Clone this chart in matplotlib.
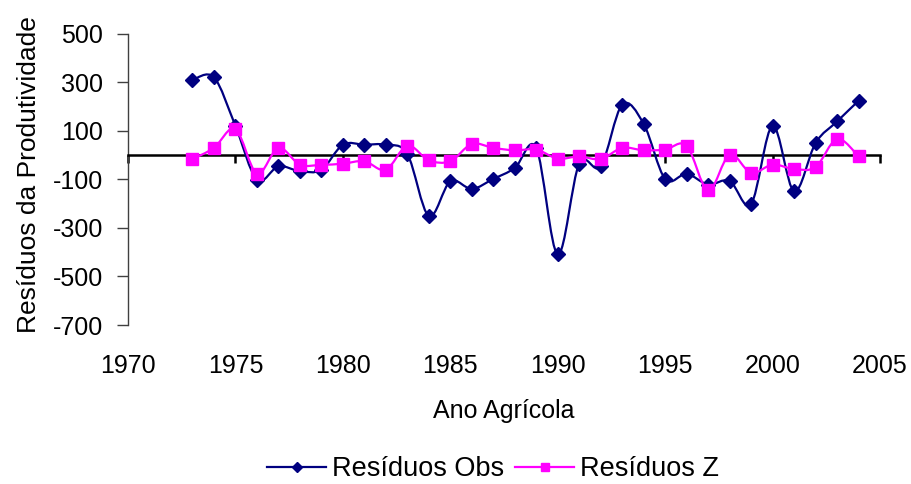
import numpy as np
import matplotlib.pyplot as plt
from matplotlib.path import Path
from matplotlib.patches import PathPatch
from matplotlib.lines import Line2D
import matplotlib.transforms as mtransforms

plt.rcParams['font.family'] = ['Liberation Sans', 'DejaVu Sans']

# data
anos = list(range(1973, 2005))
res_obs = [310, 321, 121, -101, -46, -66, -60, 43, 43, 43, 5, -251, -108, -139, -98, -53,
           30, -409, -35, -46, 208, 129, -98, -77, -121, -106, -201, 121, -149, 50, 139, 224]
res_z = [-16, 30, 108, -76, 30, -39, -40, -35, -25, -60, 39, -21, -25, 46, 30, 20,
         23, -14, -5, -16, 30, 20, 23, 39, -145, 2, -73, -39, -57, -49, 67, -5]
xticks = [1970, 1975, 1980, 1985, 1990, 1995, 2000, 2005]
yticks = [-700, -500, -300, -100, 100, 300, 500]

fs = 18


def smooth_path(x, y):
    # Excel-style smoothed line: cubic Bezier with Catmull-Rom control points
    x = np.asarray(x, float)
    y = np.asarray(y, float)
    n = len(x)
    verts = [(x[0], y[0])]
    codes = [Path.MOVETO]
    for i in range(n - 1):
        p0 = np.array([x[max(i - 1, 0)], y[max(i - 1, 0)]])
        p1 = np.array([x[i], y[i]])
        p2 = np.array([x[i + 1], y[i + 1]])
        p3 = np.array([x[min(i + 2, n - 1)], y[min(i + 2, n - 1)]])
        c1 = p1 + (p2 - p0) / 6
        c2 = p2 - (p3 - p1) / 6
        verts += [tuple(c1), tuple(c2), tuple(p2)]
        codes += [Path.CURVE4] * 3
    return Path(verts, codes)


fig = plt.figure(figsize=(9.11, 4.84), dpi=100)
ax = fig.add_axes([0.1405, 0.3285, 0.8255, 0.6015])

obs_col = '#000080'
z_col = '#FF00FF'

ax.add_patch(PathPatch(smooth_path(anos, res_obs), facecolor='none', edgecolor=obs_col, lw=1.6, zorder=3))
ax.plot(anos, res_obs, ls='none', marker='D', ms=7.5, color=obs_col, zorder=4)
ax.add_patch(PathPatch(smooth_path(anos, res_z), facecolor='none', edgecolor=z_col, lw=1.6, zorder=5))
ax.plot(anos, res_z, ls='none', marker='s', ms=9, color=z_col, zorder=6)

ax.set_xlim(1970, 2005)
ax.set_ylim(-700, 500)

ax.spines['top'].set_visible(False)
ax.spines['right'].set_visible(False)
ax.spines['bottom'].set_position(('data', 0))
ax.spines['bottom'].set_linewidth(1.8)
ax.spines['left'].set_color('#404040')
ax.spines['left'].set_linewidth(1.0)

ax.set_xticks(xticks)
ax.tick_params(axis='x', direction='out', length=6, width=1.8, labelbottom=False)
ax.set_yticks(yticks)
ax.set_yticklabels([str(v) for v in yticks], fontsize=fs)
ax.tick_params(axis='y', direction='out', length=8, width=1, color='#404040', pad=10)

trans = mtransforms.blended_transform_factory(ax.transData, ax.transAxes)
for t in xticks:
    ax.text(t, -0.141, str(t), transform=trans, ha='center', va='center', fontsize=fs)

ax.text(0.5, -0.296, 'Ano Agrícola', transform=ax.transAxes, ha='center', va='center', fontsize=fs)
fig.text(0.032, 0.64, 'Resíduos da Produtividade', rotation=90, ha='center', va='center', fontsize=19)

handles = [
    Line2D([], [], color=obs_col, lw=1.6, marker='D', ms=5),
    Line2D([], [], color=z_col, lw=1.6, marker='s', ms=6),
]
fig.legend(handles, ['Resíduos Obs', 'Resíduos Z'], loc='center', bbox_to_anchor=(0.541, 0.03),
           ncol=2, frameon=False, fontsize=19.5, handlelength=2.2, handletextpad=0.2, columnspacing=0.4)

fig.savefig('out.png', dpi=100)
